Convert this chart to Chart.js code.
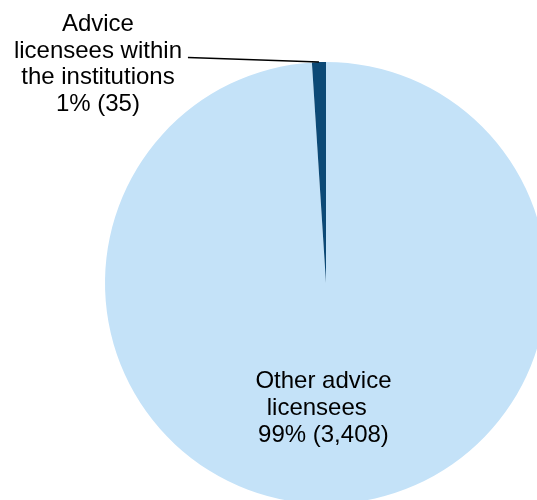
<!DOCTYPE html>
<html>
<head>
<meta charset="utf-8">
<script src="https://cdn.jsdelivr.net/npm/chart.js@4/dist/chart.umd.min.js"></script>
<style>
  html, body { margin: 0; padding: 0; background: #fff; overflow: hidden; width: 537px; height: 500px; }
  #wrap { position: absolute; left: 0; top: 0; width: 652px; height: 566px; }
</style>
</head>
<body>
<div id="wrap"><canvas id="pieChart" width="652" height="566"></canvas></div>
<script>
const categories = ['Other advice licensees', 'Advice licensees within the institutions'];
const counts = [3408, 35];
const percents = ['99%', '1%'];
const sliceColors = ['#c4e2f8', '#0c4976'];

// label lines for each slice
const labelLines = [
  ['Other advice', 'licensees  ', '99% (3,408)'],
  ['Advice', 'licensees within', 'the institutions', '1% (35)']
];

const labelPlugin = {
  id: 'sliceLabels',
  afterDraw(chart) {
    const ctx = chart.ctx;
    const arcs = chart.getDatasetMeta(0).data;
    ctx.save();
    ctx.font = '24px "Liberation Sans", Arial, sans-serif';
    ctx.fillStyle = '#000';
    ctx.textAlign = 'center';
    ctx.textBaseline = 'alphabetic';
    const lh = 27;

    // big slice: label inside
    let a = arcs[0];
    let mid = (a.startAngle + a.endAngle) / 2;
    let cx = a.x + Math.cos(mid) * a.outerRadius * 0.56 - 6.5;
    let cy = a.y + Math.sin(mid) * a.outerRadius * 0.56;
    labelLines[0].forEach((t, i) => {
      ctx.fillText(t, cx, cy + 8 + (i - 1) * lh);
    });

    // small slice: label outside with leader line
    a = arcs[1];
    mid = (a.startAngle + a.endAngle) / 2;
    const px = a.x + Math.cos(mid) * a.outerRadius;
    const py = a.y + Math.sin(mid) * a.outerRadius;
    const sx = px - 131, sy = py - 4.5;
    ctx.strokeStyle = '#000';
    ctx.lineWidth = 1.5;
    ctx.beginPath();
    ctx.moveTo(sx, sy);
    ctx.lineTo(px, py);
    ctx.stroke();
    const tx = sx - 90;
    labelLines[1].forEach((t, i) => {
      ctx.fillText(t, tx, sy + (i - 1) * 26.5);
    });
    ctx.restore();
  }
};

new Chart(document.getElementById('pieChart').getContext('2d'), {
  type: 'pie',
  data: {
    labels: categories,
    datasets: [{
      data: counts,
      backgroundColor: sliceColors,
      borderWidth: 0,
      hoverOffset: 0
    }]
  },
  options: {
    responsive: false,
    animation: false,
    layout: { padding: { top: 62, bottom: 62, left: 0, right: 0 } },
    plugins: {
      legend: { display: false },
      tooltip: { enabled: false }
    }
  },
  plugins: [labelPlugin]
});
</script>
</body>
</html>
